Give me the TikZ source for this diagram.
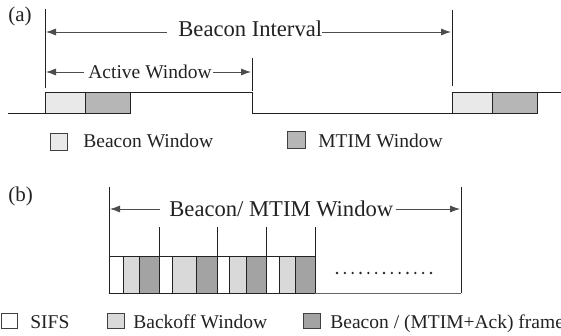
\documentclass[tikz,border=0pt]{standalone}
\usepackage{fontspec}
\setmainfont{Liberation Serif}
\usetikzlibrary{arrows.meta}
\definecolor{lighta}{HTML}{E9E9E9}
\definecolor{darka}{HTML}{B6B6B6}
\definecolor{lightb}{HTML}{D9D9D9}
\definecolor{darkb}{HTML}{A3A3A3}
\definecolor{linec}{HTML}{222222}
\begin{document}
\begin{tikzpicture}[x=1pt,y=-1pt,
  line width=0.8pt,
  big/.style={font=\fontsize{22.6}{26}\selectfont, inner sep=0pt, anchor=base west, text=linec},
  mid/.style={font=\fontsize{19.5}{23}\selectfont, inner sep=0pt, anchor=base west, text=linec},
  lab/.style={font=\fontsize{21}{25}\selectfont, inner sep=0pt, anchor=base west, text=linec},
  dim/.style={draw=black!70, -{Latex[length=10pt,width=7pt]}},
  tick/.style={draw=linec, line width=0.8pt},
  slot/.style={draw=linec, line width=0.9pt},
  legbox/.style={draw=black!75, line width=0.8pt}]
\useasboundingbox (0,0) rectangle (561,336);

% ---------- (a) ----------
\node[lab] (la) at (8,22) {(a)};
\node[big] (bi) at (178,37) {Beacon Interval};
\node[mid] (aw) at (88,79) {Active Window};

\coordinate (v1t) at (45,9);   \coordinate (v1b) at (45,88);
\coordinate (v2t) at (452,10); \coordinate (v2b) at (452,86);
\coordinate (v3t) at (252,58); \coordinate (v3b) at (252,91);
\draw[tick] (v1t) -- (v1b);
\draw[tick] (v2t) -- (v2b);
\draw[tick] (v3t) -- (v3b);

\coordinate (biL) at (167,32); \coordinate (biR) at (bi.east |- biL);
\draw[dim] (biL) -- (46,32);
\draw[dim] (biR) -- (451,32);
\coordinate (awL) at (84,72); \coordinate (awR) at ([xshift=1pt]aw.east |- awL);
\draw[dim] (awL) -- (46,72);
\draw[dim] (awR) -- (251,72);

% signal
\draw[slot, fill=lighta] (45,92) rectangle (85,113);
\draw[slot, fill=darka] (85,92) rectangle (130,113);
\draw[slot, fill=lighta] (452,92) rectangle (492,113);
\draw[slot, fill=darka] (492,92) rectangle (537,113);
\draw[slot] (8,113) -- (45,113) -- (45,92) -- (252,92) -- (252,113) -- (452,113) -- (452,92) -- (561,92);

% legend (a)
\draw[legbox, fill=lighta] (50,133) rectangle (67,150);
\node[mid] (lbw) at (83,148) {Beacon Window};
\draw[legbox, fill=darka] (287,131) rectangle (305,148);
\node[mid] (lmw) at (318,148) {MTIM Window};

% ---------- (b) ----------
\node[lab] (lb) at (8,202) {(b)};
\node[big] (bmw) at (169,217) {Beacon/ MTIM Window};
\coordinate (w1t) at (109,187); \coordinate (w1b) at (109,293);
\coordinate (w2t) at (461,187); \coordinate (w2b) at (461,293);
\draw[tick] (w1t) -- (w1b);
\draw[tick] (w2t) -- (w2b);
\coordinate (bmL) at (160,209); \coordinate (bmR) at ([xshift=2pt]bmw.east |- bmL);
\draw[dim] (bmL) -- (110,209);
\draw[dim] (bmR) -- (460,209);

% slots
\foreach \a/\b/\c/\d in {109/123/139/159, 159/172/196/217, 217/229/246/266, 266/279/295/315}{
  \draw[slot, fill=white] (\a,256) rectangle (\b,293);
  \draw[slot, fill=lightb] (\b,256) rectangle (\c,293);
  \draw[slot, fill=darkb] (\c,256) rectangle (\d,293);
  \draw[tick] (\d,227) -- (\d,256);
}
\draw[draw=black!60, line width=0.9pt] (315,293) -- (461,293);
\foreach \i in {0,...,12}{
  \fill[linec] (337+7.83*\i,273) circle (1.3pt);
}

% legend (b)
\draw[legbox, fill=white] (1,313) rectangle (17,328);
\node[mid] (ls) at (30,328) {SIFS};
\draw[legbox, fill=lightb] (107,313) rectangle (124,328);
\node[mid] (lbo) at (133,328) {Backoff Window};
\draw[legbox, fill=darkb] (303,313) rectangle (320,328);
\node[mid] (lbf) at (330,328) {Beacon / (MTIM+Ack) frame};
\end{tikzpicture}
\end{document}
